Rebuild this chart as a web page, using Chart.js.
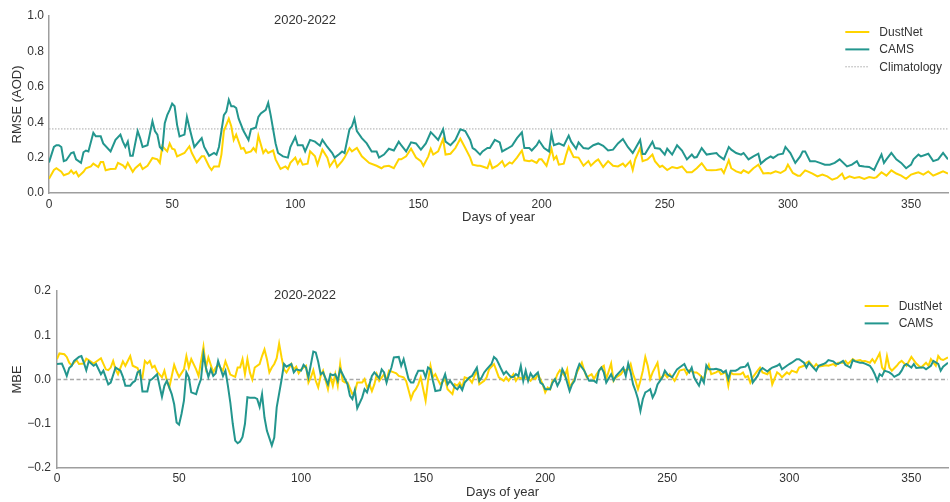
<!DOCTYPE html>
<html>
<head>
<meta charset="utf-8">
<script src="https://cdn.jsdelivr.net/npm/chart.js@4.4.1/dist/chart.umd.min.js"></script>
<style>
  body { margin: 0; background: #fff; }
  #wrap { position: relative; width: 950px; height: 502px; }
  .panel { position: absolute; left: 0; width: 950px; }
</style>
</head>
<body>
<div id="wrap">
  <div class="panel" style="top:0;height:228px"><canvas id="rmseChart" width="950" height="228"></canvas></div>
  <div class="panel" style="top:270px;height:232px"><canvas id="mbeChart" width="950" height="232"></canvas></div>
</div>
<script>
// ---- data: [day of year, value] ----
const dayTicks = [0, 50, 100, 150, 200, 250, 300, 350];
const rmseTicks = [0, 0.2, 0.4, 0.6, 0.8, 1.0];
const mbeTicks = [-0.2, -0.1, 0, 0.1, 0.2];
const periodLabel = '2020-2022';
const climatologyRmse = 0.362;
const mbeZero = 0;

const dustNetRmse = [
  [0,0.08],[2,0.13],[3,0.14],[5,0.12],[6,0.10],[8,0.11],[9,0.128],[10,0.11],[11,0.12],[12,0.094],
  [14,0.12],[15,0.14],[17,0.15],[18,0.166],[20,0.147],[21,0.175],[22,0.175],[23,0.128],[25,0.135],[27,0.137],
  [28,0.17],[30,0.156],[31,0.14],[32,0.17],[34,0.12],[35,0.14],[37,0.164],[38,0.135],[40,0.154],[42,0.198],
  [44,0.19],[45,0.17],[46,0.264],[48,0.235],[49,0.28],[50,0.25],[51,0.245],[52,0.207],[55,0.226],[57,0.264],
  [58,0.226],[60,0.173],[62,0.207],[63,0.207],[65,0.15],[66,0.13],[67,0.15],[69,0.15],[70,0.217],[71,0.35],
  [73,0.42],[74,0.377],[75,0.30],[76,0.33],[78,0.25],[79,0.254],[80,0.226],[82,0.235],[83,0.254],[84,0.235],
  [85,0.324],[87,0.226],[88,0.245],[89,0.226],[91,0.24],[92,0.19],[94,0.136],[96,0.15],[97,0.136],[98,0.17],
  [100,0.20],[101,0.166],[102,0.19],[103,0.16],[105,0.166],[106,0.235],[108,0.207],[109,0.16],[111,0.245],[113,0.20],
  [114,0.15],[116,0.19],[117,0.147],[119,0.18],[120,0.20],[122,0.254],[123,0.235],[125,0.254],[127,0.207],[130,0.17],
  [133,0.154],[135,0.14],[136,0.15],[138,0.154],[140,0.14],[142,0.19],[143,0.19],[145,0.207],[147,0.25],[149,0.20],
  [151,0.18],[152,0.154],[154,0.207],[155,0.25],[156,0.217],[158,0.235],[160,0.305],[161,0.217],[163,0.222],[165,0.254],
  [167,0.307],[169,0.254],[171,0.20],[172,0.16],[174,0.154],[175,0.154],[176,0.15],[178,0.14],[179,0.18],[180,0.14],
  [182,0.154],[184,0.18],[185,0.15],[187,0.173],[188,0.166],[190,0.20],[192,0.24],[193,0.185],[195,0.18],[196,0.185],
  [198,0.17],[199,0.19],[200,0.19],[202,0.154],[204,0.25],[205,0.19],[206,0.207],[207,0.16],[209,0.166],[210,0.217],
  [211,0.26],[213,0.203],[215,0.20],[217,0.154],[219,0.18],[220,0.154],[222,0.18],[223,0.19],[225,0.147],[227,0.18],
  [229,0.154],[231,0.15],[233,0.166],[234,0.15],[236,0.18],[237,0.13],[238,0.19],[240,0.254],[241,0.18],[243,0.19],
  [245,0.217],[246,0.18],[248,0.147],[249,0.154],[251,0.13],[253,0.147],[255,0.14],[257,0.15],[259,0.117],[261,0.117],
  [263,0.14],[265,0.168],[267,0.13],[269,0.128],[271,0.13],[273,0.135],[274,0.113],[276,0.185],[277,0.14],[279,0.122],
  [281,0.113],[282,0.128],[284,0.113],[286,0.14],[288,0.16],[290,0.11],[292,0.113],[293,0.11],[295,0.122],[297,0.113],
  [299,0.13],[300,0.16],[302,0.113],[304,0.098],[305,0.098],[307,0.128],[308,0.122],[310,0.11],[312,0.094],[314,0.104],
  [316,0.094],[318,0.075],[320,0.085],[322,0.11],[323,0.08],[325,0.094],[327,0.085],[329,0.09],[331,0.08],[333,0.09],
  [335,0.085],[336,0.09],[338,0.117],[340,0.098],[342,0.128],[344,0.11],[346,0.098],[348,0.08],[350,0.104],[352,0.113],
  [353,0.117],[355,0.104],[357,0.122],[359,0.098],[361,0.11],[363,0.122],[365,0.11]
];

const camsRmse = [
  [0,0.173],[2,0.26],[3,0.27],[4,0.27],[5,0.26],[6,0.18],[7,0.185],[9,0.226],[10,0.23],[11,0.19],
  [13,0.17],[14,0.23],[15,0.24],[16,0.235],[18,0.34],[19,0.32],[21,0.32],[22,0.28],[25,0.235],[27,0.30],
  [29,0.33],[30,0.29],[31,0.26],[32,0.29],[33,0.21],[34,0.21],[36,0.35],[37,0.31],[38,0.26],[40,0.27],
  [42,0.405],[43,0.35],[44,0.33],[45,0.26],[46,0.245],[47,0.395],[48,0.44],[49,0.47],[50,0.505],[51,0.49],
  [52,0.385],[53,0.32],[55,0.33],[56,0.43],[57,0.37],[59,0.26],[62,0.31],[63,0.26],[65,0.21],[67,0.226],
  [68,0.217],[69,0.26],[71,0.44],[72,0.46],[73,0.527],[74,0.49],[75,0.49],[76,0.48],[77,0.42],[79,0.35],
  [81,0.30],[82,0.36],[84,0.37],[85,0.43],[86,0.45],[88,0.47],[89,0.51],[90,0.44],[92,0.28],[93,0.226],
  [95,0.207],[97,0.20],[98,0.26],[100,0.316],[101,0.27],[103,0.27],[104,0.235],[106,0.30],[108,0.29],[110,0.267],
  [111,0.30],[113,0.26],[115,0.226],[116,0.20],[118,0.222],[119,0.235],[120,0.226],[122,0.36],[123,0.377],[124,0.42],
  [125,0.35],[127,0.31],[129,0.28],[131,0.235],[133,0.235],[134,0.20],[136,0.217],[138,0.25],[140,0.24],[142,0.29],
  [143,0.27],[145,0.235],[147,0.286],[149,0.28],[151,0.245],[153,0.28],[155,0.343],[156,0.33],[158,0.30],[160,0.36],
  [161,0.29],[163,0.27],[165,0.30],[167,0.36],[169,0.35],[171,0.30],[172,0.254],[173,0.245],[175,0.217],[176,0.235],
  [178,0.254],[179,0.254],[181,0.30],[183,0.286],[184,0.235],[186,0.25],[188,0.267],[190,0.31],[192,0.343],[193,0.254],
  [195,0.254],[196,0.24],[198,0.27],[199,0.295],[201,0.254],[203,0.235],[204,0.335],[205,0.27],[207,0.28],[209,0.267],
  [211,0.324],[212,0.29],[214,0.25],[215,0.286],[217,0.254],[219,0.25],[221,0.27],[223,0.28],[225,0.267],[227,0.24],
  [229,0.245],[231,0.28],[233,0.305],[235,0.26],[237,0.226],[238,0.25],[240,0.30],[241,0.22],[242,0.22],[245,0.29],
  [246,0.254],[248,0.25],[250,0.217],[251,0.25],[253,0.217],[255,0.27],[257,0.24],[259,0.19],[261,0.217],[262,0.20],
  [263,0.203],[265,0.254],[267,0.217],[269,0.222],[271,0.226],[272,0.21],[274,0.19],[276,0.26],[277,0.245],[279,0.226],
  [281,0.217],[282,0.226],[284,0.19],[286,0.207],[288,0.222],[289,0.166],[291,0.19],[293,0.207],[294,0.198],[296,0.217],
  [298,0.222],[299,0.26],[301,0.226],[303,0.17],[305,0.207],[306,0.235],[307,0.235],[309,0.18],[311,0.18],[313,0.17],
  [315,0.16],[317,0.16],[319,0.17],[321,0.19],[324,0.15],[326,0.16],[328,0.18],[329,0.154],[331,0.15],[333,0.147],
  [335,0.13],[336,0.16],[338,0.217],[339,0.17],[340,0.19],[342,0.226],[344,0.19],[346,0.17],[348,0.14],[350,0.16],
  [351,0.19],[353,0.217],[354,0.207],[357,0.222],[359,0.18],[361,0.19],[363,0.226],[365,0.19]
];

const dustNetMbe = [
  [0,0.046],[1,0.059],[3,0.057],[4,0.051],[5,0.038],[6,0.032],[8,0.044],[9,0.035],[11,0.036],[12,0.047],
  [13,0.044],[15,0.036],[17,0.044],[18,0.048],[20,0.023],[21,0.021],[22,0.027],[23,0.042],[24,0.023],[25,0.012],
  [27,0.041],[28,0.031],[30,0.053],[31,0.031],[33,0.026],[34,0.011],[35,0.005],[36,0.042],[37,0.036],[38,0.042],
  [39,0.027],[40,0.031],[41,0.018],[43,0.005],[44,0.02],[45,-0.002],[46,-0.018],[48,0.033],[49,0.018],[50,0.006],
  [52,0.023],[53,0.053],[54,0.027],[55,0.046],[57,0.023],[58,0.008],[60,0.074],[61,0.027],[62,0.05],[64,0.016],
  [65,0.027],[66,0.033],[68,0.02],[69,0.041],[71,0.011],[73,0.006],[74,0.027],[75,0.027],[76,0.046],[77,0.012],
  [78,0.046],[79,0.016],[80,0.0],[81,0.027],[83,0.035],[84,0.053],[85,0.068],[86,0.046],[87,0.016],[88,0.027],
  [89,0.035],[90,0.048],[91,0.081],[92,0.05],[93,0.023],[94,0.016],[96,0.035],[97,0.023],[98,0.029],[99,0.014],
  [100,0.023],[102,0.031],[103,-0.007],[104,0.005],[105,0.021],[106,-0.003],[107,-0.018],[108,0.008],[109,0.02],[111,-0.022],
  [112,0.008],[113,-0.014],[114,0.012],[115,-0.014],[116,0.035],[117,-0.003],[118,-0.007],[119,-0.007],[121,-0.033],[122,-0.029],
  [123,-0.007],[125,-0.007],[126,0.001],[127,-0.018],[128,-0.011],[129,-0.026],[130,-0.011],[131,0.012],[132,-0.003],[134,0.012],
  [135,-0.003],[136,0.02],[138,0.016],[139,0.014],[140,0.008],[142,0.005],[143,-0.003],[145,-0.044],[146,-0.029],[147,-0.022],
  [148,-0.011],[149,0.005],[151,-0.048],[152,-0.003],[153,0.031],[154,0.005],[155,0.012],[156,0.0],[157,-0.011],[159,0.001],
  [160,-0.022],[162,-0.033],[163,-0.011],[164,-0.014],[165,-0.007],[166,-0.018],[167,0.005],[169,0.001],[170,-0.007],[171,0.008],
  [172,0.02],[173,-0.011],[175,-0.003],[176,0.005],[177,0.023],[179,0.035],[180,0.02],[181,0.005],[183,-0.003],[184,0.005],
  [185,-0.003],[187,0.012],[188,-0.003],[189,0.005],[191,0.001],[192,0.005],[194,-0.003],[195,0.005],[196,0.001],[197,0.012],
  [199,-0.011],[200,-0.029],[201,-0.018],[202,-0.022],[203,-0.003],[204,-0.003],[205,0.012],[206,0.021],[208,0.008],[209,0.023],
  [210,-0.018],[212,0.001],[213,0.016],[214,0.027],[215,0.038],[216,0.02],[217,0.005],[219,0.012],[220,0.001],[221,0.012],
  [223,0.027],[224,0.031],[225,0.001],[227,0.036],[228,-0.003],[229,0.005],[231,0.012],[232,0.02],[234,0.023],[235,0.035],
  [236,0.012],[237,-0.003],[238,-0.022],[239,-0.003],[240,0.02],[241,0.051],[242,0.031],[243,0.001],[244,0.016],[246,0.038],
  [247,0.001],[249,0.012],[250,0.005],[251,0.012],[253,-0.003],[254,0.008],[255,0.02],[257,0.023],[258,0.012],[259,0.021],
  [261,0.016],[262,0.016],[263,0.012],[265,0.001],[266,0.02],[267,0.033],[268,0.012],[270,0.016],[271,0.02],[272,0.012],
  [274,0.016],[275,-0.014],[276,0.016],[277,0.012],[278,0.012],[280,0.012],[281,0.016],[282,0.005],[283,0.008],[284,-0.007],
  [285,0.005],[287,0.02],[288,0.027],[289,0.016],[291,0.012],[292,0.02],[293,-0.011],[295,0.016],[296,0.012],[297,0.005],
  [299,0.016],[300,0.012],[301,0.02],[303,0.016],[304,0.027],[306,0.031],[307,0.038],[308,0.041],[310,0.027],[311,0.035],
  [312,0.029],[314,0.031],[315,0.032],[316,0.031],[318,0.035],[319,0.031],[320,0.038],[322,0.038],[323,0.042],[324,0.035],
  [326,0.046],[327,0.042],[329,0.044],[330,0.041],[331,0.042],[333,0.038],[334,0.046],[335,0.038],[337,0.059],[338,0.027],
  [339,0.02],[340,0.053],[341,0.027],[342,0.02],[344,0.031],[345,0.038],[346,0.042],[348,0.031],[349,0.041],[350,0.051],
  [352,0.036],[353,0.031],[354,0.027],[356,0.038],[357,0.031],[358,0.046],[360,0.031],[361,0.053],[362,0.046],[363,0.044],
  [365,0.05]
];

const camsMbe = [
  [0,0.035],[2,0.036],[3,0.023],[4,0.008],[5,0.026],[6,0.031],[7,0.042],[9,0.051],[10,0.053],[11,0.038],
  [12,0.021],[13,0.041],[15,0.031],[16,0.035],[18,0.012],[19,0.02],[21,-0.011],[22,-0.007],[24,0.027],[26,0.02],
  [27,0.006],[28,-0.014],[30,-0.014],[31,-0.007],[32,-0.003],[33,0.016],[34,0.02],[35,-0.027],[37,-0.027],[38,-0.002],
  [39,0.001],[41,0.012],[42,-0.014],[43,-0.039],[44,-0.014],[45,-0.003],[47,-0.033],[48,-0.056],[49,-0.097],[50,-0.102],
  [51,-0.078],[52,-0.048],[53,0.016],[54,0.005],[55,-0.029],[57,-0.033],[58,-0.014],[59,0.001],[60,0.057],[61,0.027],
  [62,0.006],[63,0.023],[64,0.008],[65,0.014],[66,0.042],[68,0.008],[69,0.02],[70,-0.014],[71,-0.052],[72,-0.1],
  [73,-0.138],[74,-0.144],[75,-0.14],[76,-0.13],[77,-0.1],[78,-0.04],[79,-0.041],[81,-0.041],[82,-0.044],[83,-0.062],
  [84,-0.033],[85,-0.086],[86,-0.116],[88,-0.149],[89,-0.131],[90,-0.063],[92,0.0],[93,0.035],[94,0.029],[96,0.035],
  [97,0.016],[98,0.023],[100,0.02],[101,0.033],[102,0.027],[103,0.005],[105,0.063],[106,0.061],[107,0.04],[108,0.012],
  [109,0.016],[111,-0.011],[112,0.012],[113,0.01],[114,0.012],[115,-0.003],[116,0.023],[117,0.012],[119,-0.011],[120,-0.037],
  [121,-0.044],[122,-0.024],[123,-0.065],[125,-0.041],[126,-0.022],[127,-0.029],[128,-0.011],[129,0.008],[130,0.016],[132,0.003],
  [133,0.023],[134,0.016],[135,-0.007],[136,0.012],[137,0.027],[138,0.05],[140,0.051],[141,0.031],[142,0.046],[144,0.001],
  [145,-0.007],[146,-0.007],[147,0.008],[148,0.02],[150,0.02],[151,0.005],[152,0.027],[153,0.023],[154,-0.003],[155,-0.026],
  [157,-0.024],[158,-0.003],[159,0.012],[160,-0.011],[161,-0.003],[163,-0.018],[164,-0.022],[165,-0.014],[166,-0.024],[167,-0.007],
  [169,0.005],[170,0.008],[172,0.027],[173,-0.003],[174,0.005],[175,0.016],[176,0.023],[178,0.035],[179,0.051],[180,0.046],
  [181,0.035],[182,0.023],[183,0.012],[184,0.018],[186,0.005],[187,0.006],[188,0.012],[189,0.008],[190,0.031],[191,-0.003],
  [192,0.02],[193,-0.003],[194,0.014],[195,0.005],[197,0.016],[198,-0.007],[199,-0.011],[200,-0.022],[202,-0.022],[203,-0.007],
  [204,0.001],[205,-0.014],[206,-0.003],[207,0.023],[208,0.012],[210,-0.026],[211,-0.011],[212,-0.003],[213,0.02],[214,0.035],
  [216,0.02],[217,0.008],[218,-0.003],[219,-0.003],[220,-0.003],[221,-0.007],[222,0.02],[223,0.027],[224,0.016],[225,-0.007],
  [227,0.012],[228,-0.002],[229,0.008],[231,0.02],[232,0.027],[233,0.008],[234,0.036],[235,0.016],[236,-0.011],[237,-0.026],
  [238,-0.044],[239,-0.071],[240,-0.044],[241,-0.029],[242,-0.026],[243,-0.022],[244,-0.041],[245,-0.03],[246,-0.011],[247,-0.003],
  [248,0.005],[249,0.02],[250,0.012],[251,0.008],[252,0.005],[254,0.023],[255,0.027],[257,0.035],[258,0.023],[259,0.016],
  [260,0.027],[261,0.005],[262,-0.005],[263,-0.014],[264,0.004],[265,-0.007],[266,0.032],[267,0.023],[269,0.023],[270,0.024],
  [272,0.021],[273,0.016],[274,0.02],[275,0.001],[276,0.02],[278,0.02],[279,0.023],[280,0.027],[282,0.029],[283,0.036],
  [284,0.02],[285,-0.007],[287,0.008],[288,0.02],[289,0.026],[291,0.018],[292,0.023],[293,0.027],[295,0.031],[296,0.035],
  [297,0.023],[299,0.031],[300,0.035],[301,0.038],[303,0.046],[304,0.046],[306,0.038],[307,0.027],[308,0.038],[310,0.026],
  [311,0.02],[312,0.031],[314,0.035],[315,0.038],[316,0.044],[318,0.041],[319,0.036],[320,0.035],[322,0.042],[323,0.033],
  [325,0.027],[326,0.044],[327,0.041],[329,0.038],[330,0.038],[331,0.036],[333,0.031],[334,0.023],[335,0.012],[336,-0.003],
  [337,0.012],[338,0.008],[339,0.02],[341,0.016],[342,0.012],[343,0.006],[345,0.012],[346,0.02],[347,0.031],[348,0.035],
  [350,0.027],[351,0.035],[352,0.026],[354,0.027],[355,0.027],[356,0.023],[358,0.031],[359,0.042],[361,0.035],[362,0.02],
  [363,0.029],[365,0.038]
];

// ---- styling ----
const DUST_COLOR = '#ffd400';
const CAMS_COLOR = '#23968e';
const REF_COLOR = '#a8a8a8';
const TEXT_COLOR = '#333333';
const AXIS_COLOR = '#9e9e9e';

Chart.defaults.font.family = '"Liberation Sans", Arial, Helvetica, sans-serif';
Chart.defaults.color = TEXT_COLOR;

const toPoints = pairs => pairs.map(([x, y]) => ({ x, y }));
const flatLine = v => [{ x: 0, y: v }, { x: 365, y: v }];

// period label + matplotlib-style legend drawn inside the axes
const panelText = {
  id: 'panelText',
  afterDraw(chart, args, opts) {
    const { ctx, chartArea: a } = chart;
    ctx.save();
    ctx.fillStyle = TEXT_COLOR;
    ctx.font = '13px ' + Chart.defaults.font.family;
    ctx.textAlign = 'center';
    ctx.textBaseline = 'alphabetic';
    ctx.fillText(periodLabel, opts.labelX, a.top + opts.labelDy);

    const items = chart.data.datasets.filter(d => d.label);
    ctx.font = '12px ' + Chart.defaults.font.family;
    const maxW = Math.max(...items.map(d => ctx.measureText(d.label).width));
    const textX = a.right - 6 - maxW;
    items.forEach((d, i) => {
      const y = a.top + opts.legendDy + i * 17.4;
      ctx.beginPath();
      ctx.strokeStyle = d.borderColor;
      ctx.lineWidth = d.borderWidth;
      ctx.setLineDash(d.borderDash || []);
      ctx.moveTo(textX - 34, y);
      ctx.lineTo(textX - 10, y);
      ctx.stroke();
      ctx.setLineDash([]);
      ctx.textAlign = 'left';
      ctx.textBaseline = 'middle';
      ctx.fillText(d.label, textX, y + 0.5);
    });
    ctx.restore();
  }
};

function lineSet(label, pairs, color, order) {
  return {
    label, data: toPoints(pairs), borderColor: color, backgroundColor: color,
    borderWidth: 2, pointRadius: 0, tension: 0, fill: false, order
  };
}

function makeOptions(cfg) {
  return {
    responsive: false,
    animation: false,
    devicePixelRatio: 1,
    layout: { padding: { top: cfg.padTop, right: 2, left: 0, bottom: 0 } },
    plugins: {
      legend: { display: false },
      tooltip: { enabled: false },
      panelText: { labelX: 305, labelDy: cfg.labelDy, legendDy: cfg.legendDy }
    },
    scales: {
      x: {
        type: 'linear', min: 0, max: 365,
        grid: { display: false, drawTicks: false },
        border: { display: true, color: AXIS_COLOR, width: 1.5 },
        ticks: { font: { size: 12 }, color: TEXT_COLOR, padding: cfg.xTickPad },
        title: { display: true, text: 'Days of year', font: { size: 13 }, color: TEXT_COLOR,
                 padding: { top: 0, bottom: cfg.xTitlePad } },
        afterBuildTicks: s => { s.ticks = dayTicks.map(v => ({ value: v })); },
        afterFit: s => { s.height = cfg.xHeight; }
      },
      y: {
        min: cfg.yTicks[0], max: cfg.yTicks[cfg.yTicks.length - 1],
        grid: { display: false, drawTicks: false },
        border: { display: true, color: AXIS_COLOR, width: 1.5 },
        ticks: { font: { size: 12 }, color: TEXT_COLOR, padding: cfg.yTickPad,
                 callback: v => (v < 0 ? '\u2212' : '') + Math.abs(v).toFixed(1) },
        title: { display: true, text: cfg.yTitle, font: { size: 13 }, color: TEXT_COLOR,
                 padding: { top: 10, bottom: 0 } },
        afterBuildTicks: s => { s.ticks = cfg.yTicks.map(v => ({ value: v })); },
        afterFit: s => { s.width = cfg.yWidth; }
      }
    }
  };
}

new Chart(document.getElementById('rmseChart'), {
  type: 'line',
  data: {
    datasets: [
      lineSet('DustNet', dustNetRmse, DUST_COLOR, 1),
      lineSet('CAMS', camsRmse, CAMS_COLOR, 0),
      { label: 'Climatology', data: flatLine(climatologyRmse), borderColor: REF_COLOR,
        borderWidth: 1, borderDash: [1.5, 1.5], pointRadius: 0, order: 2 }
    ]
  },
  options: makeOptions({ padTop: 16, xHeight: 35, xTickPad: 4, xTitlePad: 3, yWidth: 49, yTickPad: 5,
                         yTicks: rmseTicks, yTitle: 'RMSE (AOD)', labelDy: 7.5, legendDy: 16 }),
  plugins: [panelText]
});

new Chart(document.getElementById('mbeChart'), {
  type: 'line',
  data: {
    datasets: [
      lineSet('DustNet', dustNetMbe, DUST_COLOR, 1),
      lineSet('CAMS', camsMbe, CAMS_COLOR, 0),
      { data: flatLine(mbeZero), borderColor: REF_COLOR, borderWidth: 1.3, borderDash: [4, 2.5],
        pointRadius: 0, order: 2 }
    ]
  },
  options: makeOptions({ padTop: 21, xHeight: 34, xTickPad: 3, xTitlePad: 2, yWidth: 57, yTickPad: 6,
                         yTicks: mbeTicks, yTitle: 'MBE', labelDy: 7.5, legendDy: 15 }),
  plugins: [panelText]
});
</script>
</body>
</html>
